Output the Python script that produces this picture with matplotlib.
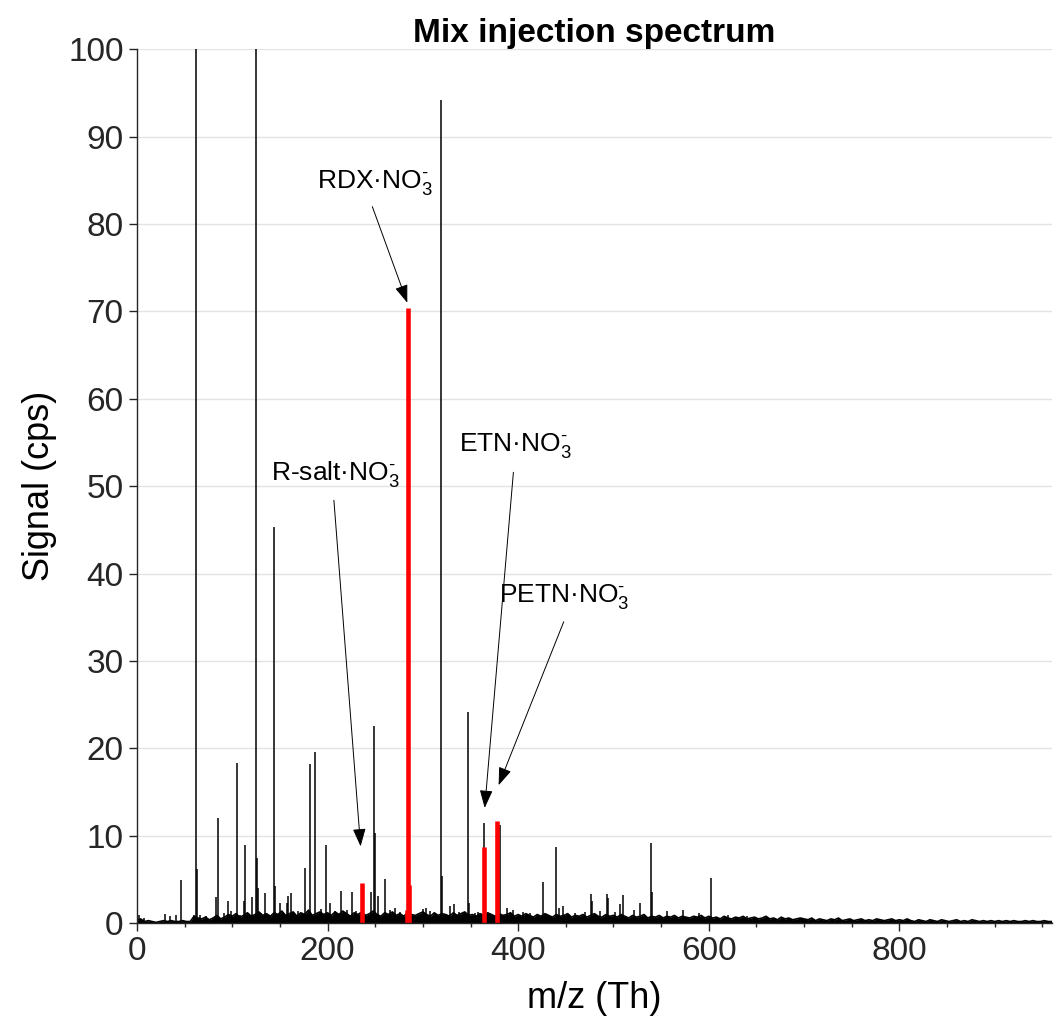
import numpy as np
import matplotlib
matplotlib.use('Agg')
import matplotlib.pyplot as plt
from matplotlib.ticker import MultipleLocator

plt.rcParams['font.family'] = ['Liberation Sans', 'DejaVu Sans']
plt.rcParams['mathtext.fontset'] = 'custom'
plt.rcParams['mathtext.rm'] = 'Liberation Sans'
plt.rcParams['mathtext.it'] = 'Liberation Sans:italic'
plt.rcParams['mathtext.bf'] = 'Liberation Sans:bold'

# baseline noise, one value every 4 Th from 0 to 960
noise_step = 4
noise_int = [
    0.3, 0.5, 0.2, 0.3, 0.2, 0.1, 0.2, 0.3, 0.2, 0.3, 0.2, 0.2, 0.3, 0.2, 0.2, 0.8, 0.6, 0.5, 0.7, 0.4, 0.6, 0.9, 0.5, 0.7, 1.0,
    0.8, 1.1, 0.7, 0.9, 1.2, 0.8, 1.0, 1.3, 0.9, 1.1, 0.8, 1.2, 1.0, 1.4, 0.9, 1.1, 1.3, 0.8, 1.2, 1.0, 1.5, 0.9, 1.1, 1.3, 1.0,
    1.2, 0.9, 1.3, 1.0, 1.4, 1.1, 0.8, 1.2, 1.0, 1.3, 0.9, 1.1, 1.4, 1.0, 0.8, 1.2, 1.0, 1.3, 0.9, 1.1, 0.8, 1.2, 1.0, 0.9, 1.1,
    1.3, 1.0, 0.8, 1.2, 0.9, 1.1, 1.0, 0.8, 1.2, 0.9, 1.1, 1.3, 0.9, 1.0, 0.8, 1.1, 0.9, 1.2, 1.0, 0.8, 1.1, 0.9, 1.0, 1.2, 0.8,
    1.0, 0.8, 1.1, 0.9, 0.7, 1.0, 0.8, 1.1, 0.9, 0.7, 1.0, 0.8, 0.9, 1.1, 0.7, 0.9, 0.8, 1.0, 0.7, 0.9, 1.1, 0.8, 0.7, 1.0, 0.8,
    0.9, 0.7, 1.0, 0.8, 0.6, 0.9, 0.7, 0.8, 1.0, 0.6, 0.8, 0.7, 0.9, 0.6, 0.8, 0.7, 0.9, 0.6, 0.8, 0.7, 0.6, 0.8, 0.7, 0.9, 0.6,
    0.8, 0.6, 0.7, 0.5, 0.8, 0.6, 0.5, 0.7, 0.6, 0.8, 0.5, 0.6, 0.7, 0.5, 0.6, 0.8, 0.5, 0.6, 0.4, 0.7, 0.5, 0.6, 0.4, 0.5, 0.6,
    0.5, 0.4, 0.6, 0.3, 0.5, 0.4, 0.3, 0.5, 0.4, 0.6, 0.3, 0.4, 0.5, 0.3, 0.4, 0.5, 0.3, 0.4, 0.3, 0.5, 0.4, 0.3, 0.4, 0.5, 0.3,
    0.4, 0.3, 0.5, 0.3, 0.2, 0.4, 0.3, 0.2, 0.4, 0.3, 0.2, 0.4, 0.3, 0.2, 0.3, 0.4, 0.2, 0.3, 0.2, 0.4, 0.3, 0.2, 0.3, 0.2, 0.3,
    0.2, 0.3, 0.2, 0.3, 0.2, 0.3, 0.2, 0.2, 0.3, 0.2, 0.3, 0.2, 0.2, 0.3, 0.2, 0.2,
]

# black peaks (m/z, cps); 62 and 125 go off scale
peak_mz = [2, 7, 29, 35, 41, 46, 60, 62, 63, 66, 72, 83, 85, 91, 96, 99,
           105, 108, 112, 113, 121, 125, 126, 127, 130, 134, 144, 145, 150, 157, 159, 162,
           169, 176, 182, 187, 193, 198, 203, 208, 214, 220, 226, 230, 246, 249, 250, 253,
           260, 266, 271, 276, 300, 303, 307, 313, 319, 320, 328, 333, 338, 342, 347, 348,
           355, 358, 364, 381, 388, 395, 405, 412, 426, 440, 443, 447, 460, 470, 476, 477,
           486, 493, 494, 502, 507, 510, 521, 528, 539, 540, 556, 573, 590, 602, 620, 640]
peak_int = [1.0, 0.6, 1.1, 0.8, 0.9, 5.0, 1.0, 200, 6.2, 1.0, 0.8, 3.0, 12.0, 1.2, 2.5, 1.4,
            18.3, 1.0, 2.6, 8.9, 3.0, 200, 7.5, 4.0, 1.2, 3.5, 45.3, 4.3, 2.3, 2.3, 3.1, 3.5,
            1.4, 6.3, 18.2, 19.6, 1.6, 8.9, 2.3, 1.4, 3.7, 1.5, 3.6, 1.4, 3.6, 22.6, 10.3, 3.1,
            5.1, 1.5, 1.8, 1.3, 1.6, 1.7, 1.4, 1.2, 94.2, 5.4, 2.0, 2.2, 1.3, 1.2, 24.2, 2.3,
            1.2, 1.3, 11.5, 11.2, 1.7, 1.5, 1.3, 1.2, 4.7, 8.7, 1.8, 2.0, 1.2, 1.3, 3.4, 2.5,
            1.4, 3.4, 2.9, 1.3, 2.2, 3.2, 1.5, 2.3, 9.2, 3.6, 1.4, 1.5, 1.2, 5.2, 0.9, 0.8]

# highlighted explosive-nitrate adduct peaks
red_mz = [236, 283, 284, 285, 364, 378]
red_int = [4.6, 1.5, 70.4, 4.4, 8.7, 11.7]

labels = [r'RDX·NO$_3^{\text{-}}$', r'R-salt·NO$_3^{\text{-}}$',
          r'ETN·NO$_3^{\text{-}}$', r'PETN·NO$_3^{\text{-}}$']
label_xy = [(188.5, 84.1), (141, 50.7), (338, 54.0), (380, 36.8)]
arrow_tail = [(247, 82.0), (206.7, 48.4), (395, 51.6), (447.8, 34.5)]
arrow_tip = [(283.7, 71.0), (234.7, 8.8), (364.9, 13.2), (379.5, 15.8)]

fig = plt.figure(figsize=(10.61, 10.27), dpi=100)
ax = fig.add_axes([0.129, 0.101, 0.8625, 0.851])

noise_mz = np.arange(len(noise_int)) * noise_step
ax.fill_between(noise_mz, 0, noise_int, color='k', lw=0)
ax.plot(noise_mz, noise_int, color='k', lw=1.2)
ax.vlines(peak_mz, 0, peak_int, color='k', lw=1.1)
ax.vlines(red_mz, 0, red_int, color='#ff0000', lw=3.3)

for lab, (tx, ty) in zip(labels, label_xy):
    ax.text(tx, ty, lab, fontsize=19, ha='left', va='baseline')
for tail, tip in zip(arrow_tail, arrow_tip):
    ax.annotate('', xy=tip, xytext=tail,
                arrowprops=dict(arrowstyle='-|>,head_length=0.55,head_width=0.2',
                                color='k', lw=0.7, mutation_scale=20,
                                shrinkA=0, shrinkB=0))

ax.set_xlim(0, 960)
ax.set_ylim(0, 100)
ax.xaxis.set_major_locator(MultipleLocator(200))
ax.xaxis.set_minor_locator(MultipleLocator(50))
ax.yaxis.set_major_locator(MultipleLocator(10))

for s in ['top', 'right']:
    ax.spines[s].set_visible(False)
for s in ['left', 'bottom']:
    ax.spines[s].set_color('#262626')
    ax.spines[s].set_linewidth(1.0)
ax.tick_params(which='major', direction='out', length=6, width=1.0, colors='#262626', labelsize=24)
ax.tick_params(which='minor', direction='out', length=3, width=1.0, colors='#262626')
ax.yaxis.grid(True, color='#e3e3e3', lw=1.0)
ax.set_axisbelow(True)

ax.set_xlabel('m/z (Th)', fontsize=26, labelpad=10)
ax.set_ylabel('Signal (cps)', fontsize=26, labelpad=8)
ax.set_title('Mix injection spectrum', fontsize=24, fontweight='bold', pad=5)

fig.savefig('out.png', dpi=100)
